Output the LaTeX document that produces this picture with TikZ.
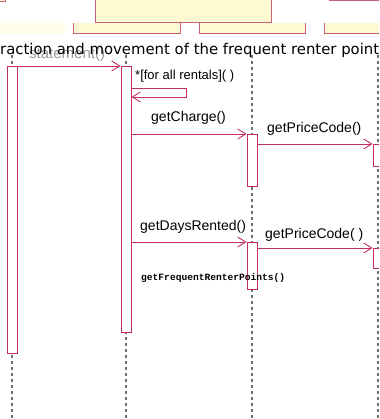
\documentclass[tikz,border=0pt]{standalone}
\usepackage{fontspec}
\setmainfont{Liberation Sans}
\newfontfamily\titlefont{DejaVu Sans}
\newfontfamily\codefont{Liberation Mono}
\usetikzlibrary{arrows.meta}
\definecolor{lineclr}{HTML}{C2305A}
\definecolor{headfill}{HTML}{FFF9D2}
\definecolor{headedge}{HTML}{C8607A}
\definecolor{lifeclr}{HTML}{707070}
\definecolor{faintfill}{HTML}{FFFCE8}
\begin{document}
\begin{tikzpicture}[x=1pt,y=-1pt,
  act/.style={draw=lineclr, fill=white, line width=1pt, minimum width=10pt, inner sep=0pt, anchor=north},
  msg/.style={draw=lineclr, line width=0.9pt, -{Straight Barb[length=8pt,width=10pt]}},
  lifeline/.style={draw=lifeclr, line width=1.6pt, dash pattern=on 3pt off 3pt},
  head/.style={draw=headedge, fill=headfill, line width=1pt},
  headedge/.style={draw=headedge, line width=1pt},
  lbl/.style={font=\fontsize{14}{14}\selectfont, inner sep=0pt, anchor=base west},
  small/.style={font=\fontsize{13}{13}\selectfont, inner sep=0pt, anchor=base west},
  code/.style={font=\codefont\bfseries\fontsize{9.6}{10}\selectfont, inner sep=0pt, anchor=base west}]
\useasboundingbox (0,0) rectangle (379,419);
\clip (0,0) rectangle (379,419);

% object heads along the top (lower strips, open at the top)
\fill[faintfill] (-10,23) rectangle (65,34);
\fill[headfill] (73,23) rectangle (180,34);
\draw[headedge] (73,23) -- (73,34) -- (180,34) -- (180,23);
\fill[headfill] (199,23) rectangle (305,34);
\draw[headedge] (199,23) -- (199,34) -- (305,34) -- (305,23);
\fill[headfill] (324,23) rectangle (390,34);
\draw[headedge] (324,23) -- (324,34) -- (390,34);
% upper boxes
\path[head] (-10,-10) rectangle (5,2);
\path[head] (329,-10) rectangle (390,1);
\path[head] (95,-10) rectangle (271,23);

% lifelines
\coordinate (l1t) at (12,55);  \coordinate (l1b) at (12,425);
\coordinate (l2t) at (126,55); \coordinate (l2b) at (126,425);
\coordinate (l3t) at (252,55); \coordinate (l3b) at (252,425);
\coordinate (l4t) at (378,55); \coordinate (l4b) at (378,425);
\draw[lifeline] (l1t) -- (l1b);
\draw[lifeline] (l2t) -- (l2b);
\draw[lifeline] (l3t) -- (l3b);
\draw[lifeline] (l4t) -- (l4b);

% first message label and caption line
\node[lbl, font=\fontsize{15}{15}\selectfont, text=gray!80] (lstmt) at (29,59) {statement()};
\node[anchor=base west, inner sep=0pt] (title) at (0,55)
  {\resizebox{379pt}{!}{\titlefont raction and movement of the frequent renter point}};

% activations
\node[act, minimum height=287pt] (a1) at (12,66) {};
\node[act, minimum height=266pt] (a2) at (126,66) {};
\node[act, minimum height=52pt] (a3) at (252,134) {};
\node[act, minimum height=22pt] (a4) at (378,144) {};
\node[act, minimum height=47pt] (a5) at (252,242) {};
\node[act, minimum height=20pt] (a6) at (378,248) {};

% messages
\draw[msg] (a1.north east) -- (a2.north west);
\coordinate (loopR) at (186,97);
\draw[msg] (a2.east |- 0,88) -| (loopR) -- (a2.east |- loopR);
\draw[msg] (a2.east |- a3.north) -- (a3.north west);
\draw[msg] (a3.east |- a4.north) -- (a4.north west);
\draw[msg] (a2.east |- a5.north) -- (a5.north west);
\draw[msg] (a5.east |- a6.north) -- (a6.north west);

% message labels
\node[small] (lloop) at (135,80) {*[for all rentals]( )};
\node[lbl] (lcharge) at (151,122) {getCharge()};
\node[lbl] (lprice1) at (267,133) {getPriceCode()};
\node[lbl] (ldays) at (140,230) {getDaysRented()};
\node[lbl] (lprice2) at (265,238) {getPriceCode( )};
\node[code] (lfreq) at (141,280) {getFrequentRenterPoints()};
\end{tikzpicture}
\end{document}
